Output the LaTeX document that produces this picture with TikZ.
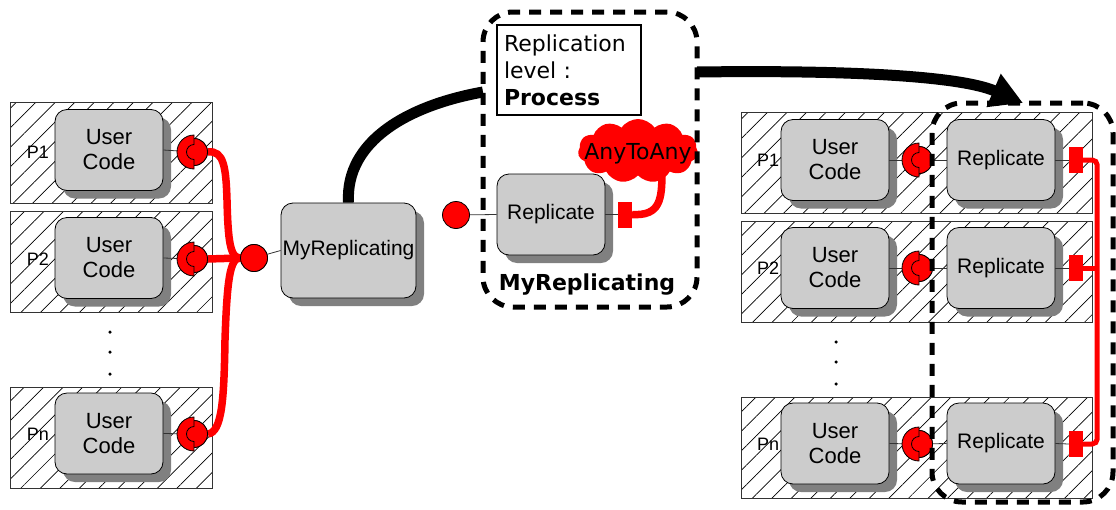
\documentclass[tikz,border=0pt]{standalone}
\usepackage{fontspec}
\setmainfont{Liberation Sans}
\newfontfamily\dejavu{DejaVu Sans}
\usepackage{color}
\definecolor{boxgrey}{RGB}{204,204,204}
\definecolor{shadowgrey}{RGB}{128,128,128}
\definecolor{wirered}{RGB}{255,0,0}
\usepackage{tikz}
\usetikzlibrary{arrows.meta}
\usetikzlibrary{patterns.meta,shadows}
\usetikzlibrary{shapes.symbols}
\usetikzlibrary{positioning,calc}
\tikzstyle{process} = [draw=black!80, line width=0.8pt, pattern={Lines[angle=45,distance=13.8pt,line width=0.7pt]}, minimum width=202pt, minimum height=101pt, inner sep=0pt]
\tikzstyle{process_wide} = [process, minimum width=351pt]
\tikzstyle{component} = [draw=black, line width=0.8pt, fill=boxgrey, rounded corners=12pt, minimum width=108pt, minimum height=81pt, inner sep=0pt, align=center, font=\fontsize{22}{25}\selectfont, drop shadow={shadow xshift=8pt, shadow yshift=-8pt, fill=shadowgrey, opacity=1}]
\tikzstyle{component_rep} = [component, font=\fontsize{21}{25}\selectfont]
\tikzstyle{ball} = [circle, fill=wirered, draw=black, line width=0.8pt, minimum size=27pt, inner sep=0pt]
\tikzstyle{plug} = [rectangle, fill=wirered, minimum width=14pt, minimum height=26pt, inner sep=0pt]
\tikzstyle{socketcup} = [fill=wirered, draw=black, line width=0.8pt]
\tikzstyle{thinlink} = [-, draw=black!80, line width=0.8pt]
\tikzstyle{redwire} = [-, draw=wirered, line width=7.5pt]
\tikzstyle{redbus} = [-, draw=wirered, line width=5pt, rounded corners=5pt]
\tikzstyle{dashgroup} = [draw=black, line width=5pt, dash pattern=on 12pt off 9pt, rounded corners=30pt, inner sep=0pt]
\tikzstyle{bigflow} = [-{Triangle[length=32pt,width=34pt]}, draw=black, line width=11pt]
\tikzstyle{plabel} = [font=\fontsize{18}{20}\selectfont, inner sep=0pt]
\tikzstyle{dotmark} = [circle, fill=black, inner sep=0pt, minimum size=3.5pt]
\newcommand{\socketcup}[1]{%
  \path[socketcup] ($(#1)+(0,-17)$) arc[start angle=90,delta angle=180,radius=17pt]
    -- ($(#1)+(0,7.5)$) arc[start angle=270,delta angle=-180,radius=7.5pt] -- cycle;}

\begin{document}
\begin{tikzpicture}[x=1pt, y=-1pt]
      \useasboundingbox (0,0) rectangle (1116,509);

      % Left processes
      \node[process] (lp1) at (111,153)   {};
      \node[process] (lp2) at (111,261.5) {};
      \node[process] (lpn) at (111,437.5) {};
      \node[plabel] (lp1_name) at (38,152) {P1};
      \node[plabel] (lp2_name) at (38,259) {P2};
      \node[plabel] (lpn_name) at (38,434) {Pn};
      \node[component] (luc1) at (109,150)   {User\\Code};
      \node[component] (luc2) at (109,258)   {User\\Code};
      \node[component] (lucn) at (109,433.5) {User\\Code};
      \node[dotmark] (ldot1) at (110,332) {};
      \node[dotmark] (ldot2) at (110,352) {};
      \node[dotmark] (ldot3) at (110,374) {};

      % Left sockets
      \node[ball] (lsock1) at (194,152) {};
      \node[ball] (lsock2) at (194,259) {};
      \node[ball] (lsockn) at (194,434) {};
      \path[thinlink] (luc1.east) -- (lsock1);
      \path[thinlink] (luc2.east) -- (lsock2);
      \path[thinlink] (lucn.east) -- (lsockn);

      % Red wires to the junction
      \node[ball] (junction) at (254,258) {};
      \path[redwire] (lsock1.east) .. controls (224,150) and (226,168) .. (227,200)
                     .. controls (228,240) and (230,258) .. (junction.west);
      \path[redwire] (lsock2.east) -- (junction.west);
      \path[redwire] (lsockn.east) .. controls (222,432) and (224,400) .. (225,340)
                     .. controls (227,280) and (230,258) .. (junction.west);
      \node[ball] (junction) at (254,258) {};
      \node[ball] at (lsock1) {};
      \node[ball] at (lsock2) {};
      \node[ball] at (lsockn) {};
      \socketcup{lsock1}
      \socketcup{lsock2}
      \socketcup{lsockn}

      % MyReplicating component
      \node[component_rep, minimum width=135pt, minimum height=95pt] (myrep) at (348.5,250.5) {MyReplicating};
      \path[thinlink] (junction) -- (myrep.west);

      % Inside MyReplicating
      \node[ball] (mball) at (456,215) {};
      \node[component_rep] (mrep) at (551,214.5) {Replicate};
      \node[plug] (mplug) at (625,214.5) {};
      \path[thinlink] (mball) -- (mrep.west);
      \path[thinlink] (mrep.east) -- (mplug.west);
      \node[cloud, cloud puffs=11, cloud puff arc=110, aspect=2, fill=wirered, minimum width=120pt, minimum height=64pt, inner sep=0pt] (anycloud) at (638,151) {};
      \node[font=\dejavu\fontsize{22}{24}\selectfont, inner sep=0pt] (anytext) at (638,154) {AnyToAny};
      \path[redwire] (mplug.east) .. controls (660,216) and (662,200) .. ($(anycloud.south)+(24,-4)$);
      \node[draw=black, line width=1.5pt, text width=130pt, inner xsep=7pt, minimum width=144pt, minimum height=90pt, align=left, font=\dejavu\fontsize{22}{27}\selectfont] (level) at (569,70) {Replication\\level :\\\textbf{Process}};
      \node[font=\dejavu\bfseries\fontsize{22}{24}\selectfont, inner sep=0pt] (mname) at (587,285) {MyReplicating};
      \node[dashgroup, minimum width=214pt, minimum height=295pt] (midgroup) at (590,159.5) {};

      % Right processes
      \node[process_wide] (rp1) at (916.5,163)   {};
      \node[process_wide] (rp2) at (916.5,271.5) {};
      \node[process_wide] (rpn) at (916.5,447.5) {};
      \node[plabel] (rp1_name) at (768,160) {P1};
      \node[plabel] (rp2_name) at (768,268) {P2};
      \node[plabel] (rpn_name) at (768,444) {Pn};
      \node[component] (ruc1) at (835,160)   {User\\Code};
      \node[component] (ruc2) at (835,268)   {User\\Code};
      \node[component] (rucn) at (835,443.5) {User\\Code};
      \node[component_rep] (rrep1) at (1001,160)   {Replicate};
      \node[component_rep] (rrep2) at (1001,268)   {Replicate};
      \node[component_rep] (rrepn) at (1001,443.5) {Replicate};
      \node[dotmark] (rdot1) at (836,342) {};
      \node[dotmark] (rdot2) at (836,362) {};
      \node[dotmark] (rdot3) at (836,384) {};

      % Right sockets and plugs
      \node[ball] (rsock1) at (919,160) {};
      \node[ball] (rsock2) at (919,268) {};
      \node[ball] (rsockn) at (919,444) {};
      \path[thinlink] (ruc1.east) -- (rsock1) -- (rrep1.west);
      \path[thinlink] (ruc2.east) -- (rsock2) -- (rrep2.west);
      \path[thinlink] (rucn.east) -- (rsockn) -- (rrepn.west);
      \node[ball] at (rsock1) {};
      \node[ball] at (rsock2) {};
      \node[ball] at (rsockn) {};
      \socketcup{rsock1}
      \socketcup{rsock2}
      \socketcup{rsockn}
      \node[plug] (rplug1) at (1076,160) {};
      \node[plug] (rplug2) at (1076,268) {};
      \node[plug] (rplugn) at (1076,444) {};
      \path[thinlink] (rrep1.east) -- (rplug1.west);
      \path[thinlink] (rrep2.east) -- (rplug2.west);
      \path[thinlink] (rrepn.east) -- (rplugn.west);

      % AnyToAny bus
      \path[redbus] (rplug1.east) -| ($(rplugn.east)+(14,0)$) -- (rplugn.east);
      \path[redbus] (rplug2.east) -- ++(14,0);

      % Replicated group
      \node[dashgroup, minimum width=181pt, minimum height=399pt] (rightgroup) at (1022.5,302.5) {};

      % Flow
      \coordinate (flow_in) at (483,92);
      \coordinate (flow_out) at (697,72);
      \coordinate (flow_tip) at (1023,103);
      \path[bigflow, -] (myrep.north) .. controls (345,140) and (410,105) .. (flow_in);
      \path[bigflow] (flow_out) .. controls (850,70) and (960,76) .. (flow_tip);

    \end{tikzpicture}
\end{document}
